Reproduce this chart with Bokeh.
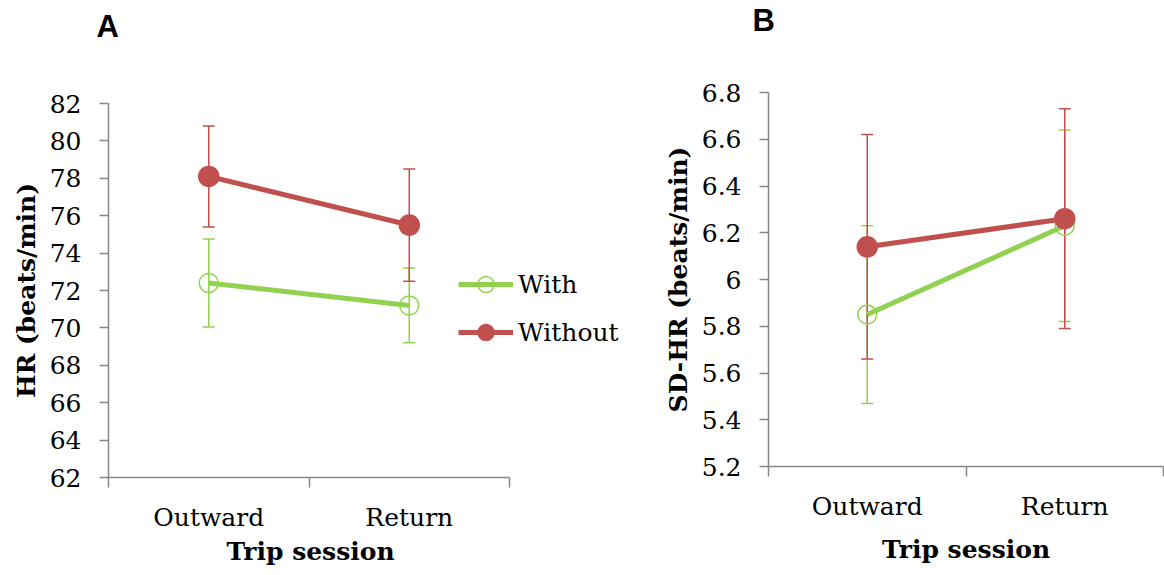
from bokeh.plotting import figure
from bokeh.models import (ColumnDataSource, Whisker, TeeHead, FixedTicker, Legend, LegendItem,
                          Range1d, Title)
from bokeh.layouts import row
from bokeh.embed import file_html
from bokeh.resources import INLINE

# ---------------- data ----------------
sessions = ["Outward", "Return"]
session_pos = [0, 1]

hr_with = [72.4, 71.2]
hr_with_err = [2.35, 2.0]
hr_without = [78.1, 75.5]
hr_without_err = [2.7, 3.0]

sd_with = [5.85, 6.23]
sd_with_err = [0.38, 0.41]
sd_without = [6.14, 6.26]
sd_without_err = [0.48, 0.47]

hr_ticks = [62, 64, 66, 68, 70, 72, 74, 76, 78, 80, 82]
sd_ticks = [5.2, 5.4, 5.6, 5.8, 6.0, 6.2, 6.4, 6.6, 6.8]
sd_tick_labels = ["5.2", "5.4", "5.6", "5.8", "6", "6.2", "6.4", "6.6", "6.8"]
boundary_ticks = [-0.5, 0.5, 1.5]

GREEN = "#92D050"
RED = "#C0504D"
AXIS = "#878787"
SERIF = "DejaVu Serif"
FS = "25px"


def style_axes(p, yticks, ylabel, xlabel, overrides=None):
    p.xaxis.ticker = FixedTicker(ticks=session_pos, minor_ticks=boundary_ticks)
    p.xaxis.major_label_overrides = {k: v for k, v in zip(session_pos, sessions)}
    p.xaxis.bounds = (-0.5, 1.5)
    p.xaxis.major_tick_line_alpha = 0
    p.xaxis.major_tick_out = 10
    p.xaxis.minor_tick_out = 10
    p.xaxis.minor_tick_in = 0
    p.xaxis.minor_tick_line_color = AXIS
    p.xaxis.minor_tick_line_width = 1.5
    p.xaxis.major_label_standoff = 15
    if xlabel:
        p.xaxis.axis_label = xlabel
        p.xaxis.axis_label_standoff = 11

    p.yaxis.ticker = FixedTicker(ticks=yticks, minor_ticks=[])
    if overrides:
        p.yaxis.major_label_overrides = overrides
    p.yaxis.major_tick_out = 9
    p.yaxis.major_tick_in = 0
    p.yaxis.major_tick_line_color = AXIS
    p.yaxis.major_tick_line_width = 1.5
    p.yaxis.major_label_standoff = 18
    p.yaxis.axis_label = ylabel
    p.yaxis.axis_label_standoff = 6

    for ax in (p.xaxis, p.yaxis):
        ax.axis_line_color = AXIS
        ax.axis_line_width = 1.5
        ax.major_label_text_font = SERIF
        ax.major_label_text_font_size = FS
        ax.major_label_text_color = "black"
        ax.axis_label_text_font = SERIF
        ax.axis_label_text_font_size = FS
        ax.axis_label_text_font_style = "bold"
        ax.axis_label_text_color = "black"
    p.xgrid.visible = False
    p.ygrid.visible = False
    p.outline_line_color = None


def style_title(p, offset, standoff, line_height):
    p.title.text_font = "Liberation Sans"
    p.title.text_font_size = "31px"
    p.title.text_font_style = "bold"
    p.title.text_color = "black"
    p.title.align = "left"
    p.title.offset = offset
    p.title.standoff = standoff
    p.title.text_line_height = line_height


def add_series(p, x, y, err, color, filled):
    src = ColumnDataSource(dict(x=x, y=y,
                                lo=[a - b for a, b in zip(y, err)],
                                hi=[a + b for a, b in zip(y, err)]))
    w = Whisker(source=src, base="x", upper="hi", lower="lo",
                line_color=color, line_width=1.5,
                upper_head=TeeHead(size=12, line_color=color, line_width=1.5),
                lower_head=TeeHead(size=12, line_color=color, line_width=1.5))
    p.add_layout(w)
    ln = p.line("x", "y", source=src, line_color=color, line_width=5)
    mk = p.scatter("x", "y", source=src, size=20 if filled else 19, marker="circle",
                   fill_color=color if filled else None,
                   line_color=color, line_width=1.5)
    return ln, mk


# ---------------- panel A ----------------
pa = figure(width=660, height=575, output_backend="svg", toolbar_location=None,
            x_range=Range1d(-0.5, 2.203), y_range=Range1d(62, 82),
            min_border_left=108, min_border_right=10,
            min_border_top=103, min_border_bottom=98,
            frame_align=False, title="A\n")
style_axes(pa, hr_ticks, "HR (beats/min)", None)
lw, mw = add_series(pa, session_pos, hr_with, hr_with_err, GREEN, False)
lo, mo = add_series(pa, session_pos, hr_without, hr_without_err, RED, True)
style_title(pa, -12, 0, 1.7)

xlabel_a = Title(text="Trip session", align="left", offset=118, standoff=0,
                 text_font=SERIF, text_font_size=FS, text_font_style="bold",
                 text_color="black")
pa.add_layout(xlabel_a, "below")

legend = Legend(items=[LegendItem(label="With", renderers=[lw, mw]),
                       LegendItem(label="Without", renderers=[lo, mo])],
                location=(350, 125), orientation="vertical",
                glyph_width=55, glyph_height=40, label_height=40,
                label_standoff=5, spacing=8, padding=0, margin=0,
                border_line_alpha=0, background_fill_alpha=0,
                label_text_font=SERIF, label_text_font_size=FS,
                label_text_color="black")
pa.add_layout(legend, "center")

# ---------------- panel B ----------------
pb = figure(width=504, height=575, output_backend="svg", toolbar_location=None,
            x_range=Range1d(-0.5, 1.5), y_range=Range1d(5.2, 6.8),
            min_border_left=108, min_border_right=1,
            min_border_top=92, min_border_bottom=109,
            frame_align=False, title="B\n")
style_axes(pb, sd_ticks, "SD-HR (beats/min)", "Trip session",
           overrides={k: v for k, v in zip(sd_ticks, sd_tick_labels)})
add_series(pb, session_pos, sd_with, sd_with_err, GREEN, False)
add_series(pb, session_pos, sd_without, sd_without_err, RED, True)
style_title(pb, -16, 0, 1.55)

layout = row(pa, pb, spacing=0)
open("out.html", "w").write(file_html(layout, INLINE))
